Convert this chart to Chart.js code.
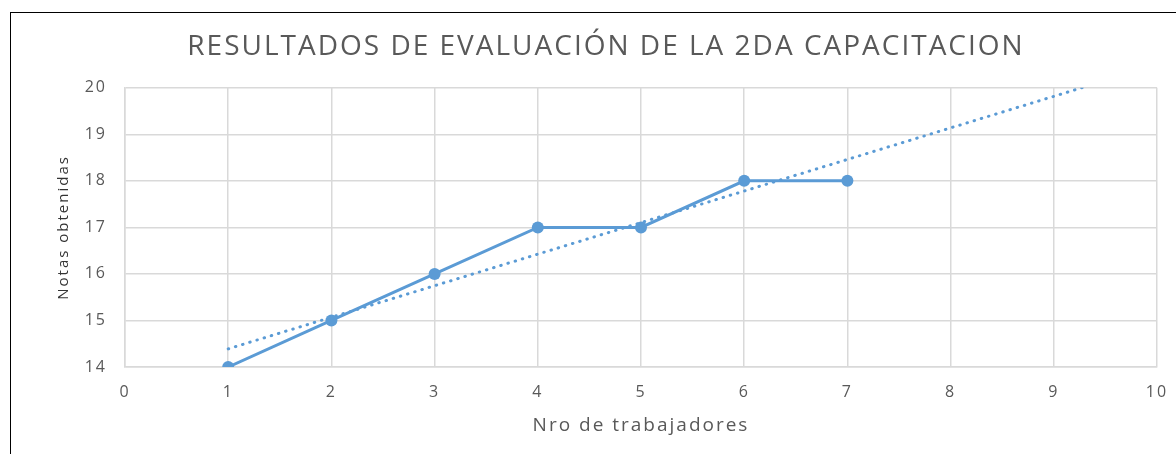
<!DOCTYPE html>
<html>
<head>
<meta charset="utf-8">
<script src="https://cdn.jsdelivr.net/npm/chart.js@4/dist/chart.umd.min.js"></script>
<style>
  body { margin: 0; background: #fff; }
  #wrap { position: relative; width: 1176px; height: 454px; overflow: hidden; }
  #frame { position: absolute; left: 10px; top: 12px; width: 1200px; height: 500px; border: 1.5px solid #000; box-sizing: border-box; }
  canvas { position: absolute; left: 0; top: 0; }
</style>
</head>
<body>
<div id="wrap">
  <div id="frame"></div>
  <canvas id="chart" width="1176" height="454"></canvas>
</div>
<script>
// data
const workers = [1, 2, 3, 4, 5, 6, 7];
const grades = [14, 15, 16, 17, 17, 18, 18];
// linear trend line (Excel style), endpoints
const trendX = [1, 9.3];
const trendY = [14.39, 20.02];

const chartTitle = 'RESULTADOS DE EVALUACIÓN DE LA 2DA CAPACITACION';
const xTitle = 'Nro de trabajadores';
const yTitle = 'Notas obtenidas';

const blue = '#5b9bd5';
const grey = '#595959';
const gridColor = '#d9d9d9';

function toPoints(xs, ys) {
    return xs.map((x, i) => ({ x: x, y: ys[i] }));
}

// the original text is a bit letter-spaced (office style)
const spacing = {
    id: 'spacing',
    beforeDraw(chart) { chart.ctx.letterSpacing = '2px'; },
    afterDraw(chart) { chart.ctx.letterSpacing = '0px'; }
};

const ctx = document.getElementById('chart').getContext('2d');
const chart = new Chart(ctx, {
    type: 'scatter',
    data: {
        datasets: [
            {
                label: 'Notas',
                data: toPoints(workers, grades),
                showLine: true,
                borderColor: blue,
                backgroundColor: blue,
                borderWidth: 3,
                pointRadius: 6,
                pointHoverRadius: 6,
                pointBorderWidth: 0
            },
            {
                label: 'Tendencia',
                data: toPoints(trendX, trendY),
                showLine: true,
                borderColor: blue,
                borderWidth: 3,
                borderDash: [0.5, 7],
                borderCapStyle: 'round',
                pointRadius: 0,
                clip: { left: 0, top: 0, right: 0, bottom: 0 }
            }
        ]
    },
    plugins: [spacing],
    options: {
        responsive: false,
        animation: false,
        layout: { padding: { left: 50, right: 14, top: 0, bottom: 0 } },
        plugins: {
            legend: { display: false },
            tooltip: { enabled: false },
            title: {
                display: true,
                text: chartTitle,
                color: grey,
                font: { family: 'Open Sans', size: 28, weight: '400', lineHeight: 1.1 },
                padding: { top: 32, bottom: 25 }
            }
        },
        scales: {
            x: {
                type: 'linear',
                min: 0,
                max: 10,
                ticks: {
                    stepSize: 1,
                    color: grey,
                    font: { family: 'Open Sans', size: 16 },
                    padding: 16
                },
                grid: { color: gridColor, lineWidth: 1.5, drawTicks: false },
                border: { color: gridColor, width: 1.5 },
                title: {
                    display: true,
                    text: xTitle,
                    color: grey,
                    font: { family: 'Open Sans', size: 19, lineHeight: 1.2 },
                    padding: { top: 0, bottom: 17 }
                },
                afterFit: function (scale) {
                    scale.height = 87;
                    scale.paddingLeft = 0;
                    scale.paddingRight = 19;
                }
            },
            y: {
                min: 14,
                max: 20,
                ticks: {
                    stepSize: 1,
                    color: grey,
                    font: { family: 'Open Sans', size: 16 },
                    padding: 18
                },
                grid: { color: gridColor, lineWidth: 1.5, drawTicks: false },
                border: { color: gridColor, width: 1.5 },
                title: {
                    display: true,
                    text: yTitle,
                    color: '#333333',
                    font: { family: 'Open Sans', size: 15, lineHeight: 1.2 },
                    padding: { top: 5, bottom: 0 }
                },
                afterFit: function (scale) { scale.width = 75; }
            }
        }
    }
});
</script>
</body>
</html>
